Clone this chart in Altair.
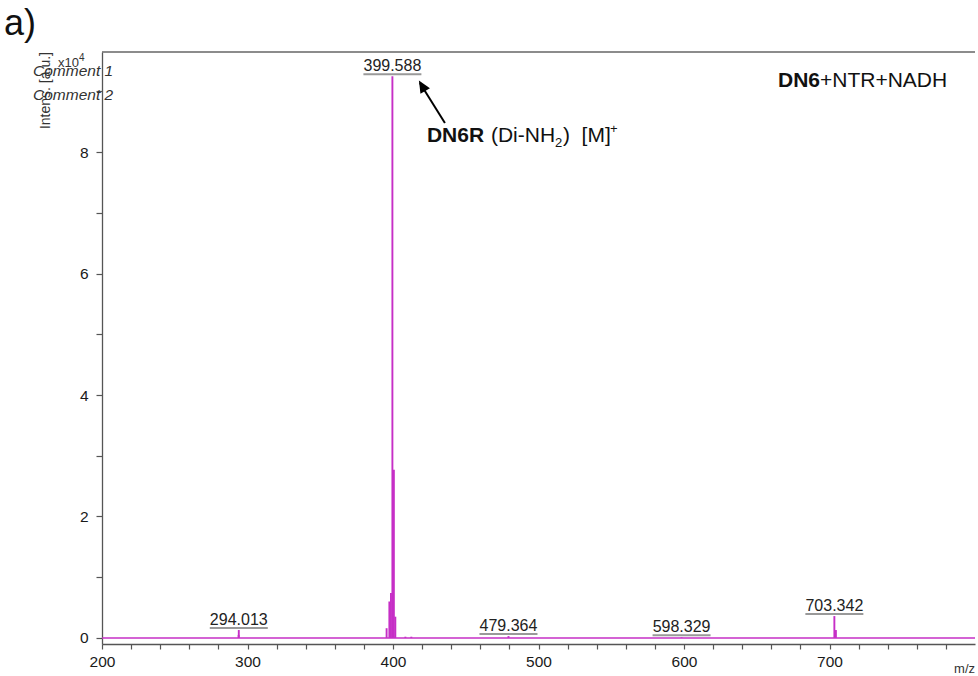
import altair as alt
import pandas as pd

# ---- data (intensity in units of 10^4 a.u.) ----
peak_mz = [293.9, 294.013, 395.6, 397.5, 398.6, 399.588, 400.6, 401.6, 408.5, 412.6, 479.364, 598.329, 703.342, 704.4]
peak_int = [0.05, 0.13, 0.16, 0.60, 0.74, 9.25, 2.77, 0.35, 0.02, 0.02, 0.03, 0.01, 0.36, 0.13]

label_mz = [294.013, 399.588, 479.364, 598.329, 703.342]
label_int = [0.13, 9.25, 0.03, 0.01, 0.36]

x_ticks = list(range(200, 800, 20))
y_ticks = list(range(0, 10))

W, H = 873, 592
FONT = "Liberation Sans"
MAG = "#c62fc6"

xs = alt.Scale(domain=[200, 800], nice=False, zero=False)
ys = alt.Scale(domain=[-0.1, 9.65], nice=False, zero=False)

xaxis = alt.Axis(values=x_ticks, labelExpr="datum.value % 100 == 0 ? datum.value : ''",
                 labelOverlap=False, title=None, grid=False, labelFlush=False)
yaxis = alt.Axis(values=y_ticks, labelExpr="datum.value % 2 == 0 ? datum.value : ''",
                 labelOverlap=False, title=None, grid=False)

peaks = pd.DataFrame({"mz": peak_mz, "h": peak_int})
labels = pd.DataFrame({"mz": label_mz, "h": label_int,
                       "txt": [f"{v:.3f}" for v in label_mz]})
base = pd.DataFrame({"x": [200], "x2": [800], "y": [0]})
one = pd.DataFrame({"a": [0]})

baseline = alt.Chart(base).mark_rule(color=MAG, strokeWidth=1.4).encode(
    x=alt.X("x:Q", scale=xs, axis=xaxis), x2="x2:Q",
    y=alt.Y("y:Q", scale=ys, axis=yaxis))

peak_rules = alt.Chart(peaks).mark_rule(color=MAG, strokeWidth=1.9).encode(
    x=alt.X("mz:Q", scale=xs, axis=xaxis), y=alt.Y("h:Q", scale=ys, axis=yaxis), y2=alt.datum(0))

underline = alt.Chart(labels).mark_rule(color="#999", strokeWidth=2, xOffset=-29,
                                         x2Offset=29, yOffset=-2, y2Offset=-2).encode(
    x=alt.X("mz:Q", scale=xs, axis=xaxis), x2="mz:Q", y=alt.Y("h:Q", scale=ys, axis=yaxis))

label_text = alt.Chart(labels).mark_text(font=FONT, fontSize=16, color="#222",
                                         baseline="alphabetic", dy=-5).encode(
    x=alt.X("mz:Q", scale=xs, axis=xaxis), y=alt.Y("h:Q", scale=ys, axis=yaxis), text="txt:N")

top_frame = alt.Chart(one).mark_rule(color="#666", strokeWidth=1.3).encode(
    x=alt.value(0), x2=alt.value(W), y=alt.value(0))

# arrow
arrow_df = pd.DataFrame({"x": [435.7], "y": [8.48], "x2": [418.5], "y2": [9.14]})
shaft = alt.Chart(arrow_df).mark_rule(color="black", strokeWidth=2).encode(
    x=alt.X("x:Q", scale=xs, axis=xaxis), y=alt.Y("y:Q", scale=ys, axis=yaxis), x2="x2:Q", y2="y2:Q")
head_df = pd.DataFrame({"x": [417.8], "y": [9.18]})
head = alt.Chart(head_df).mark_point(shape="M0,0L-0.45,1L0.45,1Z", filled=True, color="black",
                                      opacity=1, size=600, angle=329).encode(
    x=alt.X("x:Q", scale=xs, axis=xaxis), y=alt.Y("y:Q", scale=ys, axis=yaxis))

# compound annotation
ann_df = pd.DataFrame({"x": [423.3], "y": [8.165]})
def piece(text, dx, dy=0, size=21, weight="normal"):
    return alt.Chart(ann_df).mark_text(text=text, font=FONT, fontSize=size, fontWeight=weight,
                                       align="left", baseline="alphabetic", dx=dx, dy=dy,
                                       color="#111").encode(
        x=alt.X("x:Q", scale=xs, axis=xaxis), y=alt.Y("y:Q", scale=ys, axis=yaxis))

NB = "\u00a0"
ann = [piece("DN6R", 0, weight="bold"), piece("(Di-NH", 64), piece("2", 128, dy=5, size=13),
       piece(")" + NB + NB + "[M]", 136), piece("+", 183, dy=-9, size=13)]

def vtext(text, x, y, size, **kw):
    return alt.Chart(one).mark_text(text=text, font=FONT, fontSize=size, baseline="alphabetic",
                                    **kw).encode(x=alt.value(x), y=alt.value(y))

texts = [
    vtext("DN6", 676, 35, 21, fontWeight="bold", align="left", color="#111"),
    vtext("+NTR+NADH", 718, 35, 21, align="left", color="#111"),
    vtext("a)", -98, -17, 36, align="left", color="#111"),
    vtext("Intens. [a.u.]", -52, 0, 14, angle=270, align="right", color="#333"),
    vtext("x10", -44, 15, 13, align="left", color="#333"),
    vtext("4", -23, 9, 10, align="left", color="#333"),
    vtext("Comment 1", -69, 24, 15.5, fontStyle="italic", align="left", color="#333"),
    vtext("Comment 2", -69, 48, 15.5, fontStyle="italic", align="left", color="#333"),
    vtext("m/z", W, 621, 13, align="right", color="#333"),
]

chart = alt.layer(baseline, top_frame, peak_rules, underline, label_text, shaft, head,
                  *ann, *texts).properties(
    width=W, height=H,
    autosize=alt.AutoSizeParams(type="none"),
    padding={"left": 102, "top": 52, "right": 3, "bottom": 32},
    background="white",
).configure_view(stroke=None).configure_axis(
    domainColor="#555", tickColor="#555", domainWidth=1.3, tickWidth=1.2,
    labelFontSize=15.5, labelColor="#1a1a1a", labelFont=FONT,
).configure_axisX(tickSize=5, labelPadding=5).configure_axisY(tickSize=6, labelPadding=8)

chart.save("out.html", embed_options={"renderer": "svg", "actions": False})
